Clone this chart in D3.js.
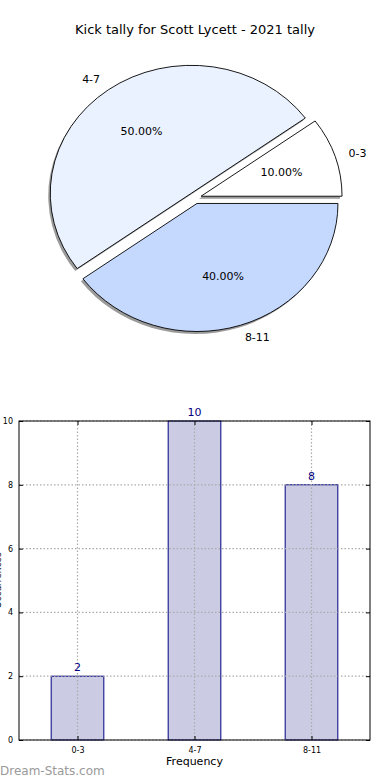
<!DOCTYPE html>
<html>
<head>
<meta charset="utf-8">
<script src="https://cdn.jsdelivr.net/npm/d3@7"></script>
<style>
    body { margin: 0; background: #fff; }
    svg { display: block; font-family: "DejaVu Sans", sans-serif; }
</style>
</head>
<body>
<div id="chart"></div>
<script>
// chart values
const categories = ["0-3", "4-7", "8-11"];
const tally = [2, 10, 8];
const sliceColors = ["#ffffff", "#eaf1ff", "#c5d9ff"];
const yTicks = [0, 2, 4, 6, 8, 10];
const titleText = "Kick tally for Scott Lycett - 2021 tally";

const width = 390, height = 780;

let svg = d3.select("#chart").append("svg")
    .attr("width", width)
    .attr("height", height);

// title
svg.append("text")
    .attr("x", 195)
    .attr("y", 34)
    .attr("text-anchor", "middle")
    .style("font-size", "13px")
    .text(titleText);

// ---- pie ----
let cx = 195, cy = 198, rx = 141, ry = 128, explode = 0.045;
let total = d3.sum(tally);

let pie = d3.pie()
    .sort(null)
    .startAngle(Math.PI / 2)
    .endAngle(Math.PI / 2 - 2 * Math.PI);
let arcs = pie(tally);

// unit arc, scaled into an ellipse
let arc = d3.arc().innerRadius(0).outerRadius(1);

function offset(d, k) {
    let m = (d.startAngle + d.endAngle) / 2;
    return [Math.sin(m) * k * rx, -Math.cos(m) * k * ry];
}

let pieG = svg.append("g");

// shadows
pieG.selectAll("path.shadow")
    .data(arcs)
    .enter()
    .append("path")
    .attr("class", "shadow")
    .attr("d", arc)
    .attr("transform", d => {
        let o = offset(d, explode);
        return "translate(" + (cx + o[0] - 2) + "," + (cy + o[1] + 2.5) + ") scale(" + rx + "," + ry + ")";
    })
    .style("fill", "#7a7a7a")
    .style("opacity", 0.75);

pieG.selectAll("path.slice")
    .data(arcs)
    .enter()
    .append("path")
    .attr("class", "slice")
    .attr("d", arc)
    .attr("transform", d => {
        let o = offset(d, explode);
        return "translate(" + (cx + o[0]) + "," + (cy + o[1]) + ") scale(" + rx + "," + ry + ")";
    })
    .style("fill", (d, i) => sliceColors[i])
    .style("stroke", "#000")
    .style("stroke-width", 0.9)
    .attr("vector-effect", "non-scaling-stroke");

// category labels
pieG.selectAll("text.lbl")
    .data(arcs)
    .enter()
    .append("text")
    .attr("class", "lbl")
    .attr("x", d => cx + offset(d, explode)[0] + offset(d, 1.1)[0])
    .attr("y", d => cy + offset(d, explode)[1] + offset(d, 1.1)[1])
    .attr("dy", "0.35em")
    .attr("text-anchor", d => offset(d, 1)[0] > 0 ? "start" : "end")
    .style("font-size", "11px")
    .text((d, i) => categories[i]);

// percentage labels
pieG.selectAll("text.pct")
    .data(arcs)
    .enter()
    .append("text")
    .attr("class", "pct")
    .attr("x", d => cx + offset(d, explode)[0] + offset(d, 0.6)[0])
    .attr("y", d => cy + offset(d, explode)[1] + offset(d, 0.6)[1])
    .attr("dy", "0.35em")
    .attr("text-anchor", "middle")
    .style("font-size", "11px")
    .text(d => (d.value / total * 100).toFixed(2) + "%");

// ---- bar chart ----
let margin = {top: 421, left: 19, right: 20, bottom: 40};
let bx0 = margin.left, bx1 = width - margin.right;
let by0 = margin.top, by1 = 740;

let x = d3.scalePoint()
    .domain(categories)
    .range([bx0, bx1])
    .padding(0.5);

let y = d3.scaleLinear()
    .domain([0, 10])
    .range([by1, by0]);

let barW = x.step() * 0.45;

let barG = svg.append("g");

barG.selectAll("rect.bar")
    .data(tally)
    .enter()
    .append("rect")
    .attr("class", "bar")
    .attr("x", (d, i) => x(categories[i]) - barW / 2)
    .attr("y", d => y(d))
    .attr("width", barW)
    .attr("height", d => by1 - y(d))
    .style("fill", "#cbcce4")
    .style("stroke", "#000080")
    .style("stroke-width", 1);

// grid
barG.selectAll("line.hgrid")
    .data(yTicks)
    .enter()
    .append("line")
    .attr("x1", bx0).attr("x2", bx1)
    .attr("y1", d => y(d)).attr("y2", d => y(d))
    .style("stroke", "#aaaaaa")
    .style("stroke-width", 1.2)
    .style("stroke-dasharray", "1.5,2");

barG.selectAll("line.vgrid")
    .data(categories)
    .enter()
    .append("line")
    .attr("x1", d => x(d)).attr("x2", d => x(d))
    .attr("y1", by0).attr("y2", by1)
    .style("stroke", "#aaaaaa")
    .style("stroke-width", 1.2)
    .style("stroke-dasharray", "1.5,2");

// value labels
barG.selectAll("text.val")
    .data(tally)
    .enter()
    .append("text")
    .attr("x", (d, i) => x(categories[i]))
    .attr("y", d => y(d) - 5)
    .attr("text-anchor", "middle")
    .style("font-size", "11px")
    .style("fill", "#000080")
    .text(d => d);

// axes
barG.append("g")
    .attr("transform", "translate(" + bx0 + ",0)")
    .call(d3.axisLeft(y).tickValues(yTicks).tickSizeInner(-4).tickSizeOuter(0).tickPadding(6));
barG.append("g")
    .attr("transform", "translate(" + bx1 + ",0)")
    .call(d3.axisRight(y).tickValues(yTicks).tickSizeInner(-4).tickSizeOuter(0).tickFormat(""));
barG.append("g")
    .attr("transform", "translate(0," + by1 + ")")
    .call(d3.axisBottom(x).tickSizeInner(-4).tickSizeOuter(0).tickPadding(7));
barG.append("g")
    .attr("transform", "translate(0," + by0 + ")")
    .call(d3.axisTop(x).tickSizeInner(-4).tickSizeOuter(0).tickFormat(""));

barG.selectAll(".domain").remove();
barG.selectAll(".tick text")
    .style("font-family", "DejaVu Sans, sans-serif")
    .style("font-size", "8px")
    .style("fill", "#000");

barG.append("rect")
    .attr("x", bx0).attr("y", by0)
    .attr("width", bx1 - bx0).attr("height", by1 - by0)
    .style("fill", "none")
    .style("stroke", "#000")
    .style("stroke-width", 1);

// axis titles
svg.append("text")
    .attr("x", (bx0 + bx1) / 2)
    .attr("y", 765)
    .attr("text-anchor", "middle")
    .style("font-size", "11px")
    .text("Frequency");

// y title sits mostly off the left edge, as in the reference
svg.append("text")
    .attr("transform", "translate(1," + ((by0 + by1) / 2) + ") rotate(-90)")
    .attr("text-anchor", "middle")
    .style("font-size", "9px")
    .text("Occurrences");

// watermark
svg.append("text")
    .attr("x", 0)
    .attr("y", 775)
    .style("font-size", "12px")
    .style("fill", "#9a9a9a")
    .text("Dream-Stats.com");
</script>
</body>
</html>
